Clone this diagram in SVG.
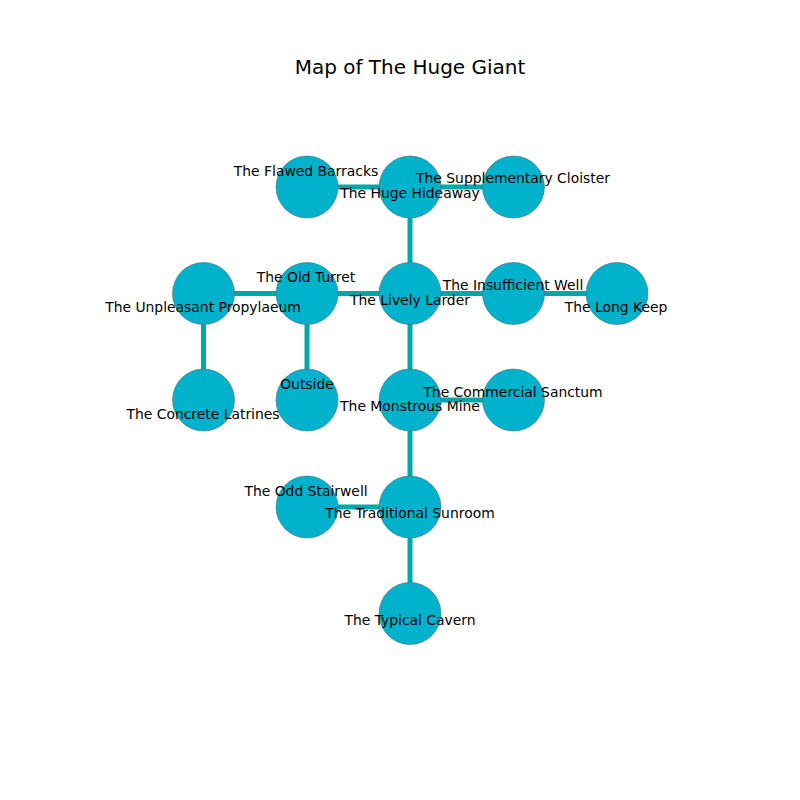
<svg xmlns="http://www.w3.org/2000/svg" width="800" height="800" viewBox="0 0 800 800">
<style>
.e{stroke:#00a8a8;stroke-width:5;fill:none}
.n{fill:#00b2cb;stroke:#4d6f78;stroke-width:0.6}
.l{font-family:"DejaVu Sans",sans-serif;font-size:13.9px;fill:#000;text-anchor:middle;dominant-baseline:central}
.t{font-family:"DejaVu Sans",sans-serif;font-size:20px;fill:#000;text-anchor:middle;dominant-baseline:central}
</style>
<rect width="800" height="800" fill="#fff"/>
<text class="t" x="410" y="67">Map of The Huge Giant</text>
<g id="connectors">
<line class="e" x1="307" y1="187" x2="410" y2="187"/>
<line class="e" x1="410" y1="187" x2="513.5" y2="187"/>
<line class="e" x1="410" y1="187" x2="410" y2="293.5"/>
<line class="e" x1="203.5" y1="293.5" x2="307" y2="293.5"/>
<line class="e" x1="307" y1="293.5" x2="410" y2="293.5"/>
<line class="e" x1="410" y1="293.5" x2="513.5" y2="293.5"/>
<line class="e" x1="513.5" y1="293.5" x2="617" y2="293.5"/>
<line class="e" x1="203.5" y1="293.5" x2="203.5" y2="400"/>
<line class="e" x1="307" y1="293.5" x2="307" y2="400"/>
<line class="e" x1="410" y1="293.5" x2="410" y2="400"/>
<line class="e" x1="410" y1="400" x2="513.5" y2="400"/>
<line class="e" x1="410" y1="400" x2="410" y2="507"/>
<line class="e" x1="307" y1="507" x2="410" y2="507"/>
<line class="e" x1="410" y1="507" x2="410" y2="613.5"/>
</g>
<g id="flawed-barracks"><circle class="n" cx="307" cy="187" r="31"/></g>
<g id="huge-hideaway"><circle class="n" cx="410" cy="187" r="31"/></g>
<g id="supplementary-cloister"><circle class="n" cx="513.5" cy="187" r="31"/></g>
<g id="unpleasant-propylaeum"><circle class="n" cx="203.5" cy="293.5" r="31"/></g>
<g id="old-turret"><circle class="n" cx="307" cy="293.5" r="31"/></g>
<g id="lively-larder"><circle class="n" cx="410" cy="293.5" r="31"/></g>
<g id="insufficient-well"><circle class="n" cx="513.5" cy="293.5" r="31"/></g>
<g id="long-keep"><circle class="n" cx="617" cy="293.5" r="31"/></g>
<g id="concrete-latrines"><circle class="n" cx="203.5" cy="400" r="31"/></g>
<g id="outside"><circle class="n" cx="307" cy="400" r="31"/></g>
<g id="monstrous-mine"><circle class="n" cx="410" cy="400" r="31"/></g>
<g id="commercial-sanctum"><circle class="n" cx="513.5" cy="400" r="31"/></g>
<g id="odd-stairwell"><circle class="n" cx="307" cy="507" r="31"/></g>
<g id="traditional-sunroom"><circle class="n" cx="410" cy="507" r="31"/></g>
<g id="typical-cavern"><circle class="n" cx="410" cy="613.5" r="31"/></g>
<g id="labels">
<text class="l" x="306" y="171">The Flawed Barracks</text>
<text class="l" x="410" y="193">The Huge Hideaway</text>
<text class="l" x="513" y="178">The Supplementary Cloister</text>
<text class="l" x="203" y="307">The Unpleasant Propylaeum</text>
<text class="l" x="306" y="277">The Old Turret</text>
<text class="l" x="410" y="300">The Lively Larder</text>
<text class="l" x="513" y="285">The Insufficient Well</text>
<text class="l" x="616" y="307">The Long Keep</text>
<text class="l" x="203" y="414">The Concrete Latrines</text>
<text class="l" x="307" y="384">Outside</text>
<text class="l" x="410" y="406">The Monstrous Mine</text>
<text class="l" x="513" y="392">The Commercial Sanctum</text>
<text class="l" x="306" y="491">The Odd Stairwell</text>
<text class="l" x="410" y="513">The Traditional Sunroom</text>
<text class="l" x="410" y="620">The Typical Cavern</text>
</g>
</svg>
